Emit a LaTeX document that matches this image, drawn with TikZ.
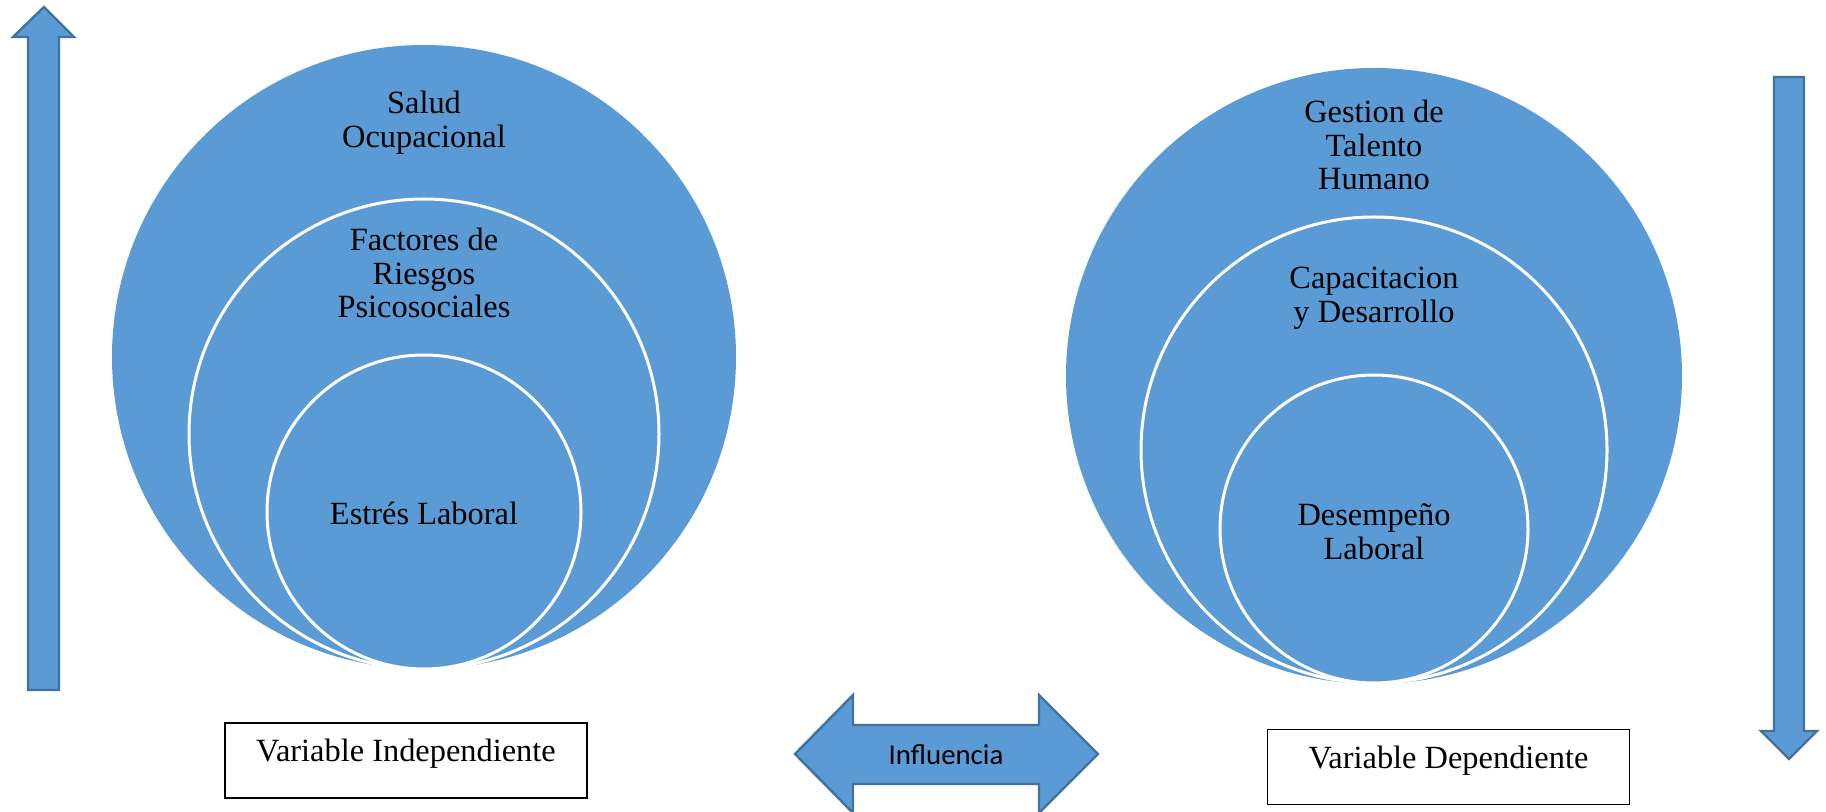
\documentclass[tikz,border=0pt]{standalone}
\usepackage{fontspec}
\setmainfont{Liberation Serif}
\newfontfamily\calib{Carlito}
\definecolor{cblue}{HTML}{5B9BD5}
\definecolor{cedge}{HTML}{41719C}
\begin{document}
\begin{tikzpicture}[x=0.5pt,y=-0.5pt,
  outerc/.style={circle,fill=cblue,draw=none,inner sep=0pt},
  innerc/.style={circle,fill=cblue,draw=white,line width=1.5pt,inner sep=0pt},
  lbl/.style={align=center,font=\fontsize{16.2pt}{16.8pt}\selectfont,inner sep=0pt},
  arrowshape/.style={fill=cblue,draw=cedge,line width=1.2pt,line join=miter},
  varbox/.style={draw=black,line width=0.8pt,minimum width=181pt,minimum height=37.5pt,inner sep=0pt}]
\useasboundingbox (0,0) rectangle (1826,812);
% left group
\node[outerc,minimum size=312pt] (lo) at (424,357) {};
\node[innerc,minimum size=235pt] (lm) at (424,434) {};
\node[innerc,minimum size=157pt] (li) at (424,512) {};
\node[lbl] (t1) at (424,123) {Salud\\Ocupacional};
\node[lbl] (t2) at (424,273) {Factores de\\Riesgos\\Psicosociales};
\node[lbl] (t3) at (424,513) {Estrés Laboral};
% right group
\node[outerc,minimum size=308pt] (ro) at (1374,376) {};
\node[innerc,minimum size=233pt] (rm) at (1374,450) {};
\node[innerc,minimum size=154pt] (ri) at (1374,529) {};
\node[lbl] (t4) at (1374,145) {Gestion de\\Talento\\Humano};
\node[lbl] (t5) at (1374,298) {Capacitacion\\y Desarrollo};
\node[lbl] (t6) at (1374,532) {Desempeño\\Laboral};
% boxes
\node[varbox] (vi) at (406,760.5) {};
\node[lbl] (vit) at (406,754) {Variable Independiente};
\node[varbox] (vd) at (1448.5,767) {};
\node[lbl] (vdt) at (1448.5,761) {Variable Dependiente};
% left up arrow
\draw[arrowshape] (44,7) -- (74,37) -- (59,37) -- (59,690) -- (28,690) -- (28,37) -- (13,37) -- cycle;
% right down arrow
\draw[arrowshape] (1789,759) -- (1817,731) -- (1804,731) -- (1804,77) -- (1774,77) -- (1774,731) -- (1761,731) -- cycle;
% double arrow
\draw[arrowshape] (795,754) -- (853,695) -- (853,725) -- (1039,725) -- (1039,695) -- (1098,754) -- (1039,813) -- (1039,784) -- (853,784) -- (853,813) -- cycle;
\node[font=\calib\fontsize{14.4pt}{16pt}\selectfont,inner sep=0pt] (inf) at (946,755) {Influencia};
\end{tikzpicture}
\end{document}
